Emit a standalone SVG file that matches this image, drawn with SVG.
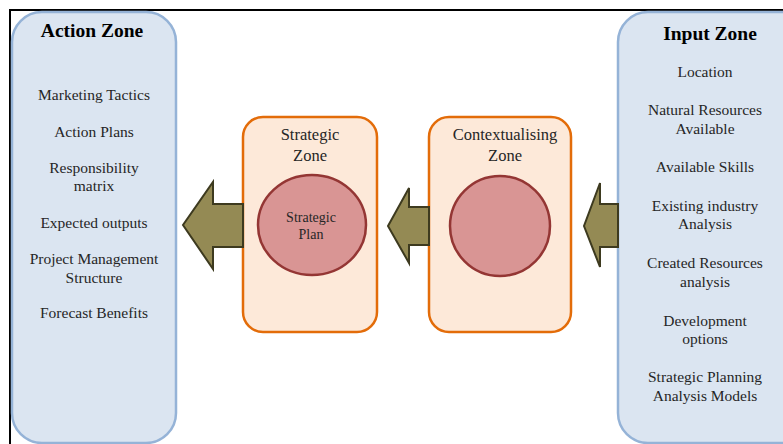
<svg xmlns="http://www.w3.org/2000/svg" width="783" height="444" viewBox="0 0 783 444">
<style>
.zone{fill:#DBE5F1;stroke:#95B3D7;stroke-width:2.5}
.mid{fill:#FDE9D9;stroke:#E36C09;stroke-width:2.5}
.circ{fill:#D99594;stroke:#943634;stroke-width:2.5}
.arr{fill:#948A54;stroke:#3D3A1F;stroke-width:2;stroke-linejoin:miter}
text{font-family:"Liberation Serif","Times New Roman",serif;fill:#262626;text-anchor:middle}
.t{font-size:19.5px;font-weight:bold;fill:#000}
.i{font-size:15.5px}
.z{font-size:16.5px}
.p{font-size:14px}
</style>
<rect x="0" y="0" width="783" height="444" fill="#fff"/>
<path d="M10,444 V10 H783" fill="none" stroke="#000" stroke-width="2"/>
<g id="action-zone">
<rect class="zone" x="12" y="12" width="164" height="431" rx="30"/>
<text class="t" x="92" y="37">Action Zone</text>
<text class="i" x="94" y="100">Marketing Tactics</text>
<text class="i" x="94" y="137">Action Plans</text>
<text class="i" x="94" y="173">Responsibility</text>
<text class="i" x="94" y="191">matrix</text>
<text class="i" x="94" y="228">Expected outputs</text>
<text class="i" x="94" y="264">Project Management</text>
<text class="i" x="94" y="283">Structure</text>
<text class="i" x="94" y="318">Forecast Benefits</text>
</g>
<g id="input-zone">
<rect class="zone" x="618" y="12" width="200" height="431" rx="30"/>
<text class="t" x="710" y="40">Input Zone</text>
<text class="i" x="705" y="77">Location</text>
<text class="i" x="705" y="115">Natural Resources</text>
<text class="i" x="705" y="134">Available</text>
<text class="i" x="705" y="172">Available Skills</text>
<text class="i" x="705" y="211">Existing industry</text>
<text class="i" x="705" y="229">Analysis</text>
<text class="i" x="705" y="268">Created Resources</text>
<text class="i" x="705" y="287">analysis</text>
<text class="i" x="705" y="326">Development</text>
<text class="i" x="705" y="344">options</text>
<text class="i" x="705" y="382">Strategic Planning</text>
<text class="i" x="705" y="401">Analysis Models</text>
</g>
<g id="strategic-zone">
<rect class="mid" x="243" y="117" width="134" height="215" rx="20"/>
<text class="z" x="310" y="140">Strategic</text>
<text class="z" x="310" y="161">Zone</text>
</g>
<g id="strategic-plan">
<ellipse class="circ" cx="312" cy="225" rx="54" ry="50"/>
<text class="p" x="311" y="222">Strategic</text>
<text class="p" x="311" y="239">Plan</text>
</g>
<g id="contextualising-zone">
<rect class="mid" x="429" y="117" width="142" height="215" rx="20"/>
<text class="z" x="505" y="140">Contextualising</text>
<text class="z" x="505" y="161">Zone</text>
</g>
<g id="context-circle">
<circle class="circ" cx="500" cy="226" r="50"/>
</g>
<g id="connectors">
<path class="arr" d="M243,204 H213 V182 L183,225 L213,269 V247 H243 Z"/>
<path class="arr" d="M429,207 H409 V188 L388,226 L409,263 V245 H429 Z"/>
<path class="arr" d="M618,204 H600 V183 L584,226 L600,267 V247 H618 Z"/>
</g>
</svg>
